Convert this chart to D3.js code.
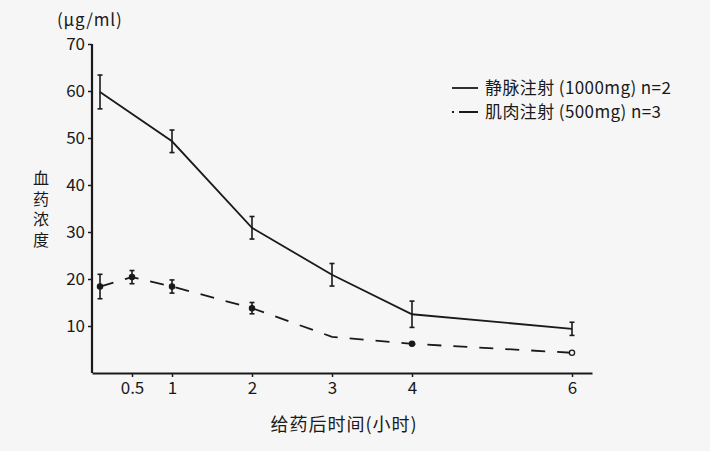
<!DOCTYPE html>
<html>
<head>
<meta charset="utf-8">
<script src="https://cdn.jsdelivr.net/npm/d3@7"></script>
<style>
  body { margin: 0; background: #f6f6f6; }
  svg { display: block; font-family: "Noto Sans CJK SC", "Noto Sans", sans-serif; }
</style>
</head>
<body>
<div id="chart"></div>
<script>
// --- data ---
const xTicks = [0.5, 1, 2, 3, 4, 6];
const yTicks = [10, 20, 30, 40, 50, 60, 70];

// intravenous 1000mg (n=2)
const ivTime = [0.1, 1, 2, 3, 4, 6];
const ivMean = [59.8, 49.3, 30.9, 20.9, 12.5, 9.4];
const ivErr  = [3.6, 2.4, 2.4, 2.4, 2.8, 1.4];

// intramuscular 500mg (n=3)
const imTime = [0.1, 0.5, 1, 2, 3, 4, 6];
const imMean = [18.4, 20.4, 18.4, 13.8, 7.7, 6.2, 4.3];
const imErr  = [2.6, 1.4, 1.4, 1.2, 0, 0, 0];

const legendLabels = ["静脉注射 (1000mg) n=2", "肌肉注射 (500mg) n=3"];

// --- chart ---
const width = 710, height = 451;
const svg = d3.select("#chart").append("svg")
    .attr("width", width)
    .attr("height", height);

const x = d3.scaleLinear().domain([0, 6.25]).range([92, 592]);
const y = d3.scaleLinear().domain([0, 70]).range([373, 44]);

const ink = "#1a1a1a";

// axes
const yAxis = svg.append("g")
    .attr("transform", `translate(${x(0)},0)`)
    .call(d3.axisLeft(y).tickValues(yTicks).tickSize(4).tickSizeOuter(0));
yAxis.select(".domain").attr("d", `M0,${y(70)}V${y(0)}`);

const xAxis = svg.append("g")
    .attr("transform", `translate(0,${y(0)})`)
    .call(d3.axisBottom(x).tickValues(xTicks).tickFormat(d => d).tickSize(4).tickSizeOuter(0));

[yAxis, xAxis].forEach(g => {
    g.select(".domain").attr("stroke", ink).attr("stroke-width", 2.2);
    g.selectAll(".tick line").attr("stroke", ink).attr("stroke-width", 1.5);
    g.selectAll(".tick text")
        .attr("fill", ink)
        .style("font-size", "17px")
        .style("font-family", "'Noto Sans CJK SC', sans-serif");
});
yAxis.selectAll(".tick text").attr("x", -7);
xAxis.selectAll(".tick text").attr("y", 9);

// lines
const ivData = ivTime.map((t, i) => ({ t, v: ivMean[i], e: ivErr[i] }));
const imData = imTime.map((t, i) => ({ t, v: imMean[i], e: imErr[i] }));

const line = d3.line().x(d => x(d.t)).y(d => y(d.v));

svg.append("path")
    .datum(ivData)
    .attr("d", line)
    .attr("fill", "none")
    .attr("stroke", ink)
    .attr("stroke-width", 1.8);

svg.append("path")
    .datum(imData)
    .attr("d", line)
    .attr("fill", "none")
    .attr("stroke", ink)
    .attr("stroke-width", 1.8)
    .attr("stroke-dasharray", "14,12");

// error bars
function errorBars(data) {
    const g = svg.append("g").attr("stroke", ink).attr("stroke-width", 1.6);
    data.filter(d => d.e > 0).forEach(d => {
        g.append("line")
            .attr("x1", x(d.t)).attr("x2", x(d.t))
            .attr("y1", y(d.v - d.e)).attr("y2", y(d.v + d.e));
        [d.v - d.e, d.v + d.e].forEach(v => {
            g.append("line")
                .attr("x1", x(d.t) - 2.5).attr("x2", x(d.t) + 2.5)
                .attr("y1", y(v)).attr("y2", y(v));
        });
    });
}
errorBars(ivData);
errorBars(imData);

// markers on the intramuscular series (none drawn at 3h in the original)
svg.append("g").selectAll("circle")
    .data(imData.filter(d => d.t !== 3))
    .join("circle")
    .attr("cx", d => x(d.t))
    .attr("cy", d => y(d.v))
    .attr("r", 2.6)
    .attr("fill", d => d.t === 6 ? "#f6f6f6" : ink)
    .attr("stroke", ink)
    .attr("stroke-width", 1.3);

// legend
const legend = svg.append("g").attr("transform", "translate(452,88)");
legendLabels.forEach((label, i) => {
    const row = legend.append("g").attr("transform", `translate(0,${i * 24})`);
    row.append("line")
        .attr("x1", 0).attr("x2", 26)
        .attr("stroke", ink).attr("stroke-width", 1.8)
        .attr("stroke-dasharray", i === 0 ? null : "2,5,19");
    row.append("text")
        .attr("x", 33).attr("dy", "0.35em")
        .attr("fill", ink)
        .style("font-size", "17px")
        .style("letter-spacing", "0.4px")
        .text(label);
});

// axis titles
svg.append("text")
    .attr("x", 57).attr("y", 26)
    .attr("fill", ink)
    .style("font-size", "17px")
    .style("letter-spacing", "0.8px")
    .text("(μg/ml)");

// vertical title, one text element stacked top to bottom
svg.append("text")
    .attr("x", 41).attr("y", 211)
    .attr("text-anchor", "middle")
    .attr("fill", ink)
    .style("font-size", "16px")
    .style("writing-mode", "vertical-rl")
    .style("letter-spacing", "4.5px")
    .text("血药浓度");

svg.append("text")
    .attr("x", 344).attr("y", 431)
    .attr("text-anchor", "middle")
    .attr("fill", ink)
    .style("font-size", "18px")
    .style("letter-spacing", "1px")
    .text("给药后时间(小时)");
</script>
</body>
</html>
